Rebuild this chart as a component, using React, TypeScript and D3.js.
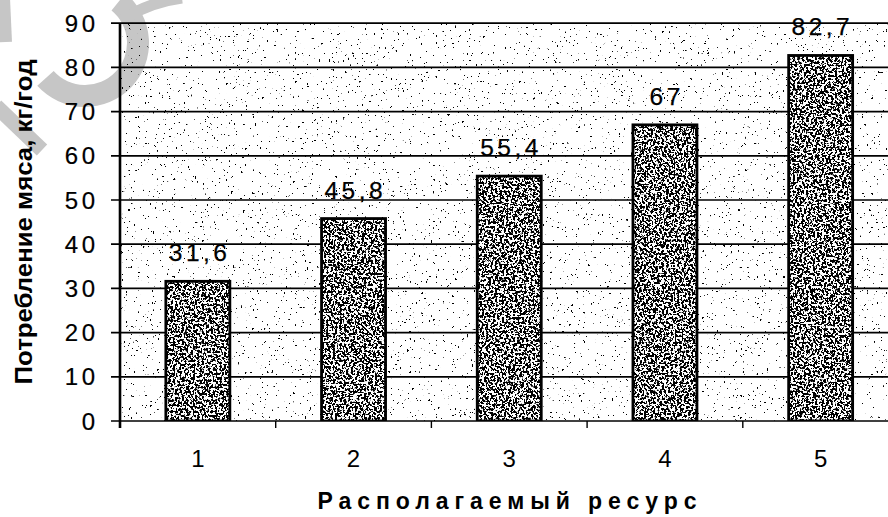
import React from 'react';
import * as d3 from 'd3';

const categories = ['1', '2', '3', '4', '5'];
const values = [31.6, 45.8, 55.4, 67, 82.7];
const valueLabels = ['31,6', '45,8', '55,4', '67', '82,7'];
const yTicks = [0, 10, 20, 30, 40, 50, 60, 70, 80, 90];
const yTitle = 'Потребление мяса, кг/год';
const xTitle = 'Располагаемый ресурс';

const W = 888;
const H = 517;
const left = 120;
const right = 898.5;
const top = 23.2;
const bottom = 421;
const FONT = '"Liberation Sans", Arial, sans-serif';

export default function App() {
  const x = d3
    .scaleBand<string>()
    .domain(categories)
    .range([left, right])
    .paddingInner(0.589)
    .paddingOuter(0.2945);
  const y = d3.scaleLinear().domain([0, 90]).range([bottom, top]);
  const step = x.step();
  const boundaries = d3.range(categories.length + 1).map((i) => left + i * step);

  // watermark arc (part of a ring) in the upper-left corner
  const ring = d3.arc()({
    innerRadius: 42,
    outerRadius: 64,
    startAngle: -2.3,
    endAngle: -5.6,
  } as any) as string;

  return (
    <svg
      width={W}
      height={H}
      viewBox={`0 0 ${W} ${H}`}
      style={{ position: 'absolute', left: 0, top: 0, background: '#fff' }}
    >
      <defs>
        <filter id="bgNoise" x="0" y="0" width="1" height="1">
          <feTurbulence type="fractalNoise" baseFrequency="0.42" numOctaves="2" seed="7" />
          <feColorMatrix
            type="matrix"
            values="0 0 0 0 0  0 0 0 0 0  0 0 0 0 0  40 0 0 0 -28.6"
          />
        </filter>
        <filter id="barNoise" x="0" y="0" width="1" height="1">
          <feTurbulence type="fractalNoise" baseFrequency="0.45" numOctaves="3" seed="3" />
          <feColorMatrix
            type="matrix"
            values="0 0 0 0 0  0 0 0 0 0  0 0 0 0 0  25 0 0 0 -12.0"
          />
        </filter>
        <clipPath id="plotClip">
          <rect x={left} y={top} width={W - left} height={bottom - top} />
        </clipPath>
      </defs>

      {/* watermark */}
      <g fill="#c6c6c6" stroke="none">
        <path d={ring} transform="translate(85,43)" />
      </g>
      <g stroke="#c6c6c6" fill="none" strokeLinecap="butt">
        <path d="M123,19 Q150,2 182,-2" strokeWidth={11} />
        <path d="M-4,106 L42,150" strokeWidth={15} />
        <path d="M4,-2 L6,42" strokeWidth={12} />
      </g>

      {/* background speckle inside plot */}
      <rect
        x={left}
        y={top}
        width={W - left}
        height={bottom - top}
        fill="#fff"
        filter="url(#bgNoise)"
      />

      {/* gridlines */}
      <g stroke="#000" strokeWidth={1.7}>
        {yTicks.map((t) => (
          <line key={t} x1={111} x2={W} y1={y(t)} y2={y(t)} />
        ))}
      </g>

      {/* y axis line */}
      <line x1={left} x2={left} y1={top} y2={bottom + 7} stroke="#000" strokeWidth={2.6} />

      {/* x tick marks */}
      <g stroke="#000" strokeWidth={1.4}>
        {boundaries.map((b, i) => (
          <line key={i} x1={b} x2={b} y1={bottom} y2={bottom + 7} />
        ))}
      </g>

      {/* bars */}
      <g clipPath="url(#plotClip)">
        {categories.map((c, i) => {
          const bx = x(c)!;
          const by = y(values[i]);
          const bw = x.bandwidth();
          const bh = bottom - by;
          return (
            <g key={c}>
              <rect x={bx} y={by} width={bw} height={bh} fill="#fff" />
              <rect x={bx} y={by} width={bw} height={bh} fill="#fff" filter="url(#barNoise)" />
              <rect
                x={bx}
                y={by}
                width={bw}
                height={bh}
                fill="none"
                stroke="#000"
                strokeWidth={2.8}
              />
            </g>
          );
        })}
      </g>

      {/* value labels */}
      <g
        fontFamily={FONT}
        fontSize={24.5}
        fill="#000"
        stroke="#000"
        strokeWidth={0.25}
        textAnchor="middle"
        letterSpacing={3.5}
      >
        {categories.map((c, i) => (
          <text key={c} x={x(c)! + x.bandwidth() / 2 + 1.75} y={y(values[i]) - 20}>
            {valueLabels[i]}
          </text>
        ))}
      </g>

      {/* y tick labels */}
      <g
        fontFamily={FONT}
        fontSize={24}
        fill="#000"
        stroke="#000"
        strokeWidth={0.2}
        textAnchor="end"
        letterSpacing={3.5}
      >
        {yTicks.map((t) => (
          <text key={t} x={98.5} y={y(t)} dy="0.36em">
            {t}
          </text>
        ))}
      </g>

      {/* x tick labels */}
      <g fontFamily={FONT} fontSize={24} fill="#000" textAnchor="middle">
        {categories.map((c) => (
          <text key={c} x={x(c)! + x.bandwidth() / 2} y={467}>
            {c}
          </text>
        ))}
      </g>

      {/* axis titles */}
      <text
        x={507}
        y={509}
        fontFamily={FONT}
        fontSize={23}
        fontWeight="bold"
        textAnchor="middle"
        textLength={379}
        lengthAdjust="spacing"
      >
        {xTitle}
      </text>
      <text
        transform="translate(32,222) rotate(-90)"
        fontFamily={FONT}
        fontSize={23}
        fontWeight="bold"
        textAnchor="middle"
        textLength={325}
        lengthAdjust="spacingAndGlyphs"
      >
        {yTitle}
      </text>
    </svg>
  );
}
